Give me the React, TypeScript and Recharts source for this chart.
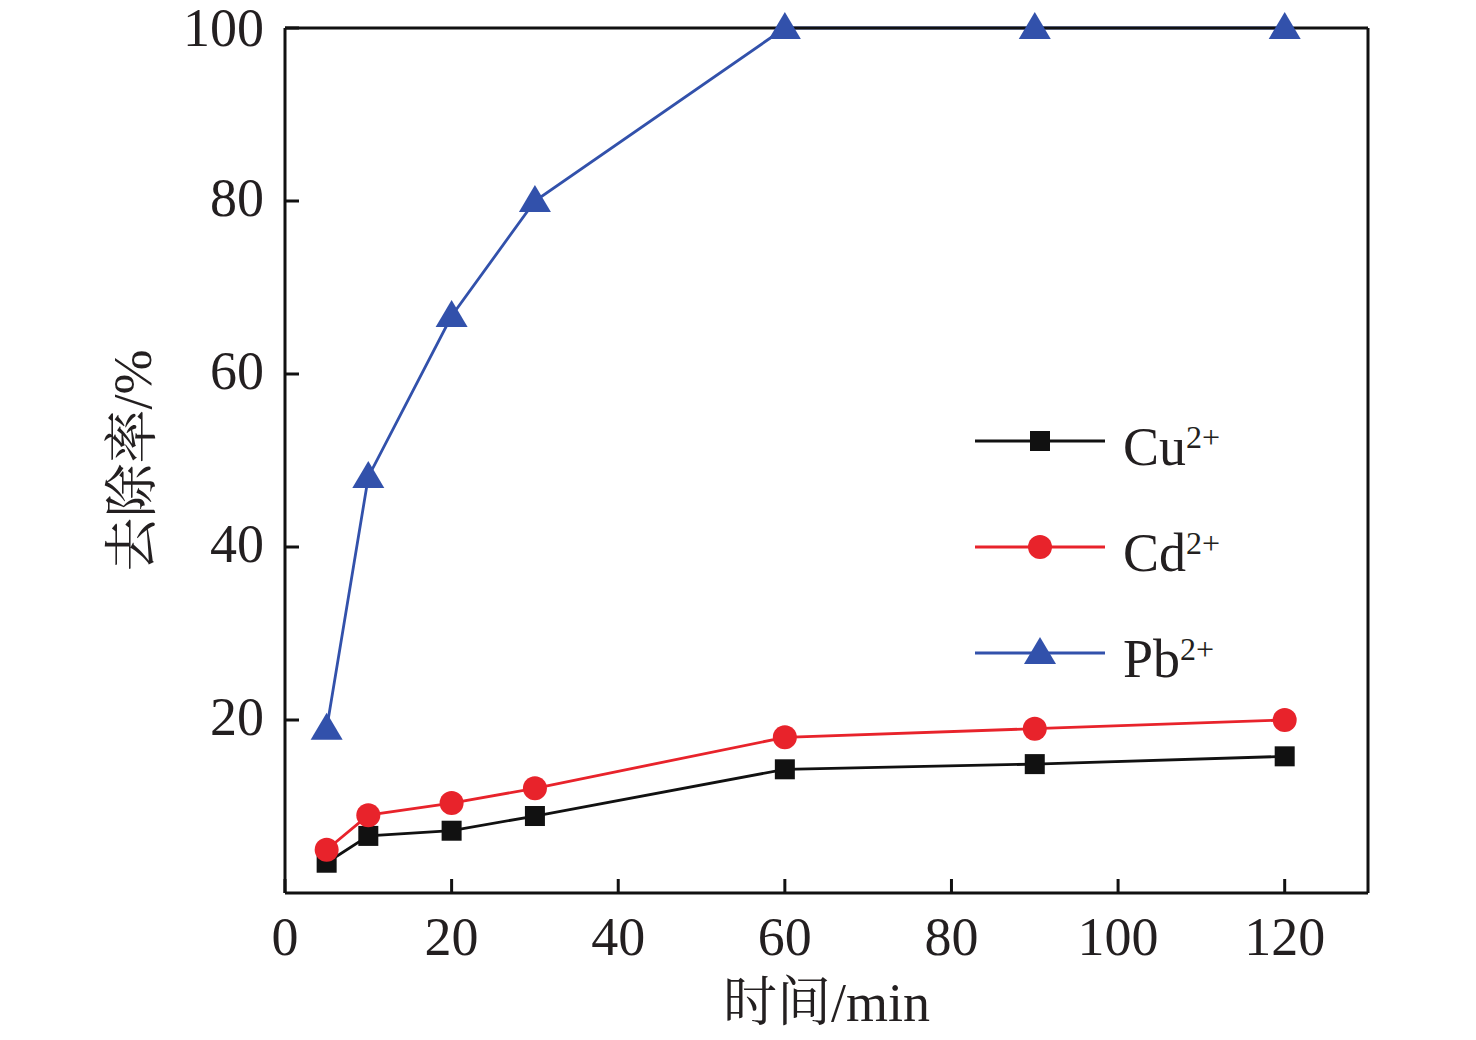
import { LineChart, Line, XAxis, YAxis, Legend } from 'recharts';

const TIMES = [5, 10, 20, 30, 60, 90, 120];
const CU = [3.5, 6.6, 7.2, 8.9, 14.3, 14.9, 15.8];
const CD = [5.0, 9.0, 10.4, 12.1, 18.0, 19.0, 20.0];
const PB = [19.0, 48.1, 66.7, 80.0, 100, 100, 100];

const X_TICKS = [0, 20, 40, 60, 80, 100, 120];
const Y_TICKS = [20, 40, 60, 80, 100];

const SERIES = [
  { key: 'cu', ion: 'Cu', charge: '2+', color: '#111111', shape: 'square' },
  { key: 'cd', ion: 'Cd', charge: '2+', color: '#e8232b', shape: 'circle' },
  { key: 'pb', ion: 'Pb', charge: '2+', color: '#3251ab', shape: 'triangle' },
];

const data = TIMES.map((t, i) => ({ t, cu: CU[i], cd: CD[i], pb: PB[i] }));

const FONT = '"Liberation Serif", "Times New Roman", "Noto Serif CJK SC", "Noto Sans CJK SC", serif';
const AXIS = { stroke: '#111', strokeWidth: 3 };

function Marker({ shape, cx, cy, color }: { shape: string; cx: number; cy: number; color: string }) {
  if (shape === 'square') {
    return <rect x={cx - 10} y={cy - 10} width={20} height={20} fill={color} />;
  }
  if (shape === 'circle') {
    return <circle cx={cx} cy={cy} r={12} fill={color} />;
  }
  return (
    <polygon
      points={`${cx},${cy - 16} ${cx - 16},${cy + 11} ${cx + 16},${cy + 11}`}
      fill={color}
    />
  );
}

const makeDot = (shape: string, color: string) => (props: any) => {
  const { cx, cy, index } = props;
  if (cx == null || cy == null) return <g key={index} />;
  return <Marker key={index} shape={shape} cx={cx} cy={cy} color={color} />;
};

function LegendBox() {
  return (
    <svg width={320} height={300} style={{ overflow: 'visible' }}>
      {SERIES.map((s, i) => {
        const y = 41 + i * 106;
        return (
          <g key={s.key}>
            <line x1={15} x2={145} y1={y} y2={y} stroke={s.color} strokeWidth={2.8} />
            <Marker shape={s.shape} cx={80} cy={y} color={s.color} />
            <text x={163} y={y + 24} fontFamily={FONT} fontSize={54} fill="#231f20">
              {s.ion}
              <tspan dy={-17} fontSize={32}>{s.charge}</tspan>
            </text>
          </g>
        );
      })}
    </svg>
  );
}

export default function App() {
  return (
    <div style={{ position: 'absolute', left: 0, top: 0, width: 1476, height: 1040, background: '#fff' }}>
      <LineChart
        width={1476}
        height={1040}
        data={data}
        margin={{ top: 27, right: 107, bottom: 117, left: 175 }}
        style={{ fontFamily: FONT }}
      >
        <XAxis
          dataKey="t"
          type="number"
          domain={[0, 130]}
          ticks={X_TICKS}
          height={30}
          tickSize={-14}
          tickMargin={38}
          axisLine={AXIS}
          tickLine={AXIS}
          tick={{ fontSize: 54, fill: '#231f20', fontFamily: FONT }}
          label={{
            content: (p: any) => {
              const vb = p.viewBox;
              return (
                <text
                  x={vb.x + vb.width / 2}
                  y={1021}
                  textAnchor="middle"
                  fontFamily={FONT}
                  fontSize={54}
                  fill="#231f20"
                >
                  时间/min
                </text>
              );
            },
          }}
        />
        <XAxis
          xAxisId="top"
          orientation="top"
          dataKey="t"
          type="number"
          domain={[0, 130]}
          height={1}
          tick={false}
          tickLine={false}
          axisLine={AXIS}
        />
        <YAxis
          type="number"
          domain={[0, 100]}
          ticks={Y_TICKS}
          width={110}
          tickSize={-14}
          tickMargin={35}
          axisLine={AXIS}
          tickLine={AXIS}
          tick={{ fontSize: 54, fill: '#231f20', fontFamily: FONT, dy: -4 }}
          label={{
            content: (p: any) => {
              const vb = p.viewBox;
              const cy = vb.y + vb.height / 2;
              return (
                <text
                  x={133}
                  y={cy}
                  textAnchor="middle"
                  dominantBaseline="central"
                  transform={`rotate(-90 133 ${cy})`}
                  fontFamily={FONT}
                  fontSize={54}
                  fill="#231f20"
                >
                  去除率/%
                </text>
              );
            },
          }}
        />
        <YAxis
          yAxisId="right"
          orientation="right"
          type="number"
          domain={[0, 100]}
          width={1}
          tick={false}
          tickLine={false}
          axisLine={AXIS}
        />
        <Legend
          layout="vertical"
          align="center"
          verticalAlign="middle"
          content={() => <LegendBox />}
          wrapperStyle={{ left: 960, top: 400, width: 320, height: 300 }}
        />
        {SERIES.map((s) => (
          <Line
            key={s.key}
            dataKey={s.key}
            name={s.ion + s.charge}
            stroke={s.color}
            strokeWidth={2.8}
            dot={makeDot(s.shape, s.color)}
            activeDot={false}
            isAnimationActive={false}
          />
        ))}
      </LineChart>
    </div>
  );
}
